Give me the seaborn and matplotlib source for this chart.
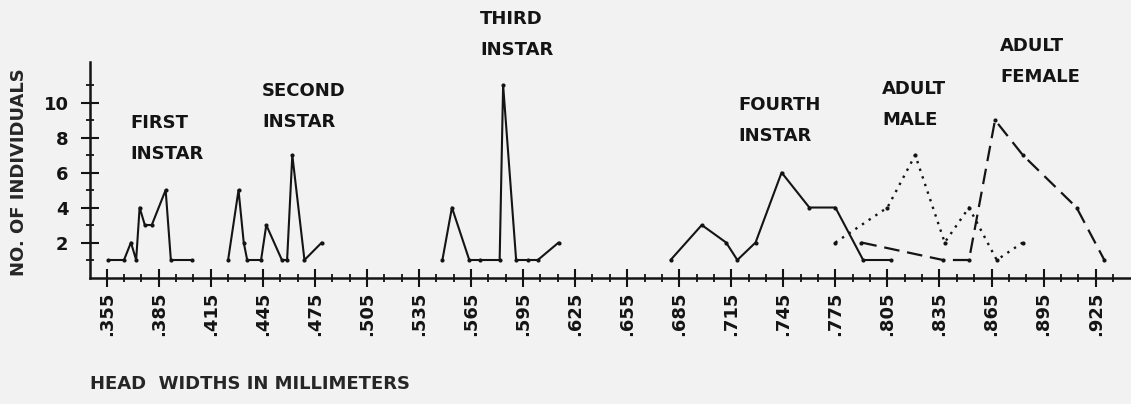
import seaborn as sns
import matplotlib
matplotlib.use('Agg')
import matplotlib.pyplot as plt
from matplotlib.ticker import FixedLocator, FuncFormatter

# head widths (mm) and number of individuals
first_x = [.356, .365, .369, .372, .374, .377, .381, .389, .392, .404]
first_y = [1, 1, 2, 1, 4, 3, 3, 5, 1, 1]

second_x = [.425, .431, .434, .436, .444, .447, .456, .459, .462, .469, .479]
second_y = [1, 5, 2, 1, 1, 3, 1, 1, 7, 1, 2]

third_x = [.5485, .554, .564, .570, .5815, .5835, .591, .598, .6035, .6155]
third_y = [1, 4, 1, 1, 1, 11, 1, 1, 1, 2]

fourth_x = [.680, .698, .712, .7185, .729, .744, .760, .775, .791, .807]
fourth_y = [1, 3, 2, 1, 2, 6, 4, 4, 1, 1]

male_x = [.775, .805, .821, .838, .852, .868, .883]
male_y = [2, 4, 7, 2, 4, 1, 2]

female_x = [.790, .837, .852, .867, .883, .914, .930]
female_y = [2, 1, 1, 9, 7, 4, 1]

x_major = [.355, .385, .415, .445, .475, .505, .535, .565, .595, .625,
           .655, .685, .715, .745, .775, .805, .835, .865, .895, .925]
y_major = [2, 4, 6, 8, 10]

BG = '#f2f2f2'
INK = '#141414'

sns.set_style('white')
plt.rcParams['font.family'] = ['DejaVu Sans']
plt.rcParams['font.weight'] = 'bold'
plt.rcParams['axes.labelweight'] = 'bold'
plt.rcParams['text.color'] = INK

fig = plt.figure(figsize=(11.31, 4.04), dpi=100, facecolor=BG)
ax = fig.add_axes([90 / 1131, 126.5 / 404, 1040 / 1131, 215 / 404])
ax.set_facecolor(BG)

# instars: solid lines, adults: dotted (male) and dashed (female)
for xs, ys in [(first_x, first_y), (second_x, second_y),
               (third_x, third_y), (fourth_x, fourth_y)]:
    sns.lineplot(x=xs, y=ys, ax=ax, color=INK, lw=1.5, marker='o', ms=3,
                 mew=0, estimator=None, sort=False)
sns.lineplot(x=male_x, y=male_y, ax=ax, color=INK, lw=1.7,
             linestyle=(0, (1, 2.4)), marker='o', ms=3, mew=0,
             estimator=None, sort=False)
sns.lineplot(x=female_x, y=female_y, ax=ax, color=INK, lw=1.6,
             linestyle=(0, (7, 3.5)), marker='o', ms=3, mew=0,
             estimator=None, sort=False)

ax.set_xlim(.3454, .9448)
ax.set_ylim(0, 12.29)

x_minor = [round(.355 + .01 * k, 3) for k in range(1, 59) if k % 3]
ax.xaxis.set_major_locator(FixedLocator(x_major))
ax.xaxis.set_minor_locator(FixedLocator(x_minor))
ax.xaxis.set_major_formatter(FuncFormatter(lambda v, p: f'{v:.3f}'[1:]))
ax.yaxis.set_major_locator(FixedLocator(y_major))
ax.yaxis.set_minor_locator(FixedLocator([1, 3, 5, 7, 9, 11]))

ax.tick_params(which='both', bottom=True, left=True, top=False, right=False)
ax.tick_params(which='major', direction='inout', length=13, width=1.5,
               color=INK, labelsize=13, labelcolor=INK)
ax.tick_params(which='minor', direction='inout', length=6, width=1.3,
               color=INK)
ax.tick_params(axis='x', which='major', pad=3.5, labelrotation=90)
ax.tick_params(axis='y', which='major', pad=9)

for side in ['top', 'right']:
    ax.spines[side].set_visible(False)
for side in ['left', 'bottom']:
    ax.spines[side].set_linewidth(1.8)
    ax.spines[side].set_color(INK)

ax.set_ylabel('NO. OF INDIVIDUALS', fontsize=13, fontweight='bold')
ax.yaxis.set_label_coords(-0.0596, 0.488)
ax.set_xlabel('HEAD  WIDTHS IN MILLIMETERS', fontsize=13, fontweight='bold',
              loc='left')
ax.xaxis.set_label_coords(0, -0.453)
ax.xaxis.label.set_va('top')

labels = [('FIRST\nINSTAR', .3684, 9.34),
          ('SECOND\nINSTAR', .4445, 11.17),
          ('THIRD\nINSTAR', .5702, 15.29),
          ('FOURTH\nINSTAR', .7189, 10.37),
          ('ADULT\nMALE', .8019, 11.29),
          ('ADULT\nFEMALE', .8699, 13.74)]
for txt, tx, ty in labels:
    ax.text(tx, ty, txt, fontsize=13, ha='left', va='top', linespacing=1.9,
            clip_on=False)

fig.savefig('out.png', dpi=100, facecolor=BG)
